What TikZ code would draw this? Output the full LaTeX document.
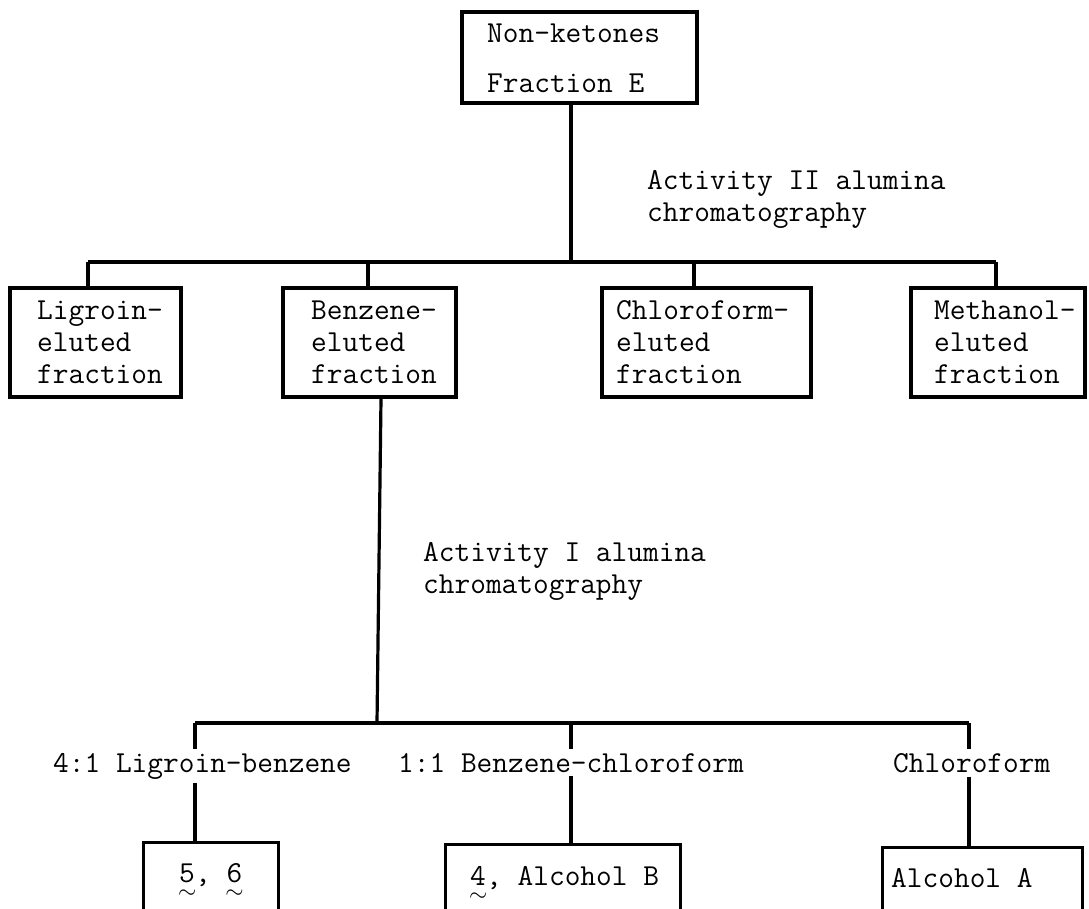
\documentclass[tikz,border=0pt]{standalone}
\newcommand{\tlnum}[1]{\rlap{#1}\makebox[0.525em]{\raisebox{-0.55em}{\resizebox{0.6em}{!}{$\sim$}}}}
\begin{document}
\begin{tikzpicture}[x=1pt,y=-1pt,
  ln/.style={line width=3.2pt},
  fbox/.style={draw, line width=3.2pt, inner sep=0pt},
  obox/.style={inner sep=0pt},
  tx/.style={font=\fontsize{30.5}{32}\selectfont\ttfamily, inner sep=0pt, align=left, anchor=base west},
  lbl/.style={font=\fontsize{30.5}{32}\selectfont\ttfamily, inner xsep=0pt, inner ysep=4pt, anchor=base west}
]
\useasboundingbox (0,0) rectangle (1089,909);

% top box
\node[fbox, minimum width=235pt, minimum height=91pt] (top) at (579.5,57.5) {};
\node[tx, font=\fontsize{30.5}{50}\selectfont\ttfamily] (toptx) at (487,93) {Non-ketones\\Fraction E};

% first branching
\coordinate (j1) at (571,262);
\coordinate (d1) at (88,262);
\coordinate (d2) at (368,262);
\coordinate (d3) at (694,262);
\coordinate (d4) at (996,262);
\draw[ln] (j1 |- top.south) -- (j1);
\draw[ln] (d1) -- (d4);

\node[tx] (act2) at (647,222) {Activity II alumina\\chromatography};

% fraction boxes
\node[fbox, minimum width=171pt, minimum height=109pt] (lig) at (95.5,342.5) {};
\node[fbox, minimum width=173pt, minimum height=109pt] (benz) at (369.5,342.5) {};
\node[fbox, minimum width=209pt, minimum height=109pt] (chl) at (706.5,342.5) {};
\node[fbox, minimum width=174pt, minimum height=109pt] (meth) at (998,342.5) {};

\node[tx] (ligtx) at (37,383) {Ligroin-\\eluted\\fraction};
\node[tx] (benztx) at (311,383) {Benzene-\\eluted\\fraction};
\node[tx] (chltx) at (616,383) {Chloroform-\\eluted\\fraction};
\node[tx] (methtx) at (934,383) {Methanol-\\eluted\\fraction};

\draw[ln] (d1) -- (d1 |- lig.north);
\draw[ln] (d2) -- (d2 |- benz.north);
\draw[ln] (d3) -- (d3 |- chl.north);
\draw[ln] (d4) -- (d4 |- meth.north);

% second branching
\coordinate (j2) at (377,723);
\coordinate (e1) at (195,723);
\coordinate (e2) at (571,723);
\coordinate (e3) at (969,723);
\draw[ln] ([xshift=11.5pt]benz.south) -- (j2);
\draw[ln] (e1) -- (e3);

\node[tx] (act1) at (423,593) {Activity I alumina\\chromatography};

\node[lbl] (l1) at (53,772) {4:1 Ligroin-benzene};
\node[lbl] (l2) at (398,772) {1:1 Benzene-chloroform};
\node[lbl] (l3) at (893,772) {Chloroform};

\draw[ln] (e1) -- (e1 |- l1.north);
\draw[ln] (e2) -- (e2 |- l2.north);
\draw[ln] (e3) -- (e3 |- l3.north);

% bottom open boxes
\node[obox, minimum width=134pt, minimum height=66pt] (r1) at (211,876) {};
\node[obox, minimum width=234pt, minimum height=64pt] (r2) at (563,877) {};
\node[obox, minimum width=199pt, minimum height=61pt] (r3) at (982.5,878.5) {};
\draw[ln] (r1.south west) -- (r1.north west) -- (r1.north east) -- (r1.south east);
\draw[ln] (r2.south west) -- (r2.north west) -- (r2.north east) -- (r2.south east);
\draw[ln] (r3.south west) -- (r3.north west) -- (r3.north east) -- (r3.south east);

\draw[ln] (l1.south -| e1) -- (r1.north -| e1);
\draw[ln] (l2.south -| e2) -- (r2.north -| e2);
\draw[ln] (l3.south -| e3) -- (r3.north -| e3);

\node[tx] (r1tx) at (179,882) {\tlnum{5}, \tlnum{6}};
\node[tx] (r2tx) at (470,885) {\tlnum{4}, Alcohol B};
\node[tx] (r3tx) at (891,887) {Alcohol A};
\end{tikzpicture}
\end{document}
